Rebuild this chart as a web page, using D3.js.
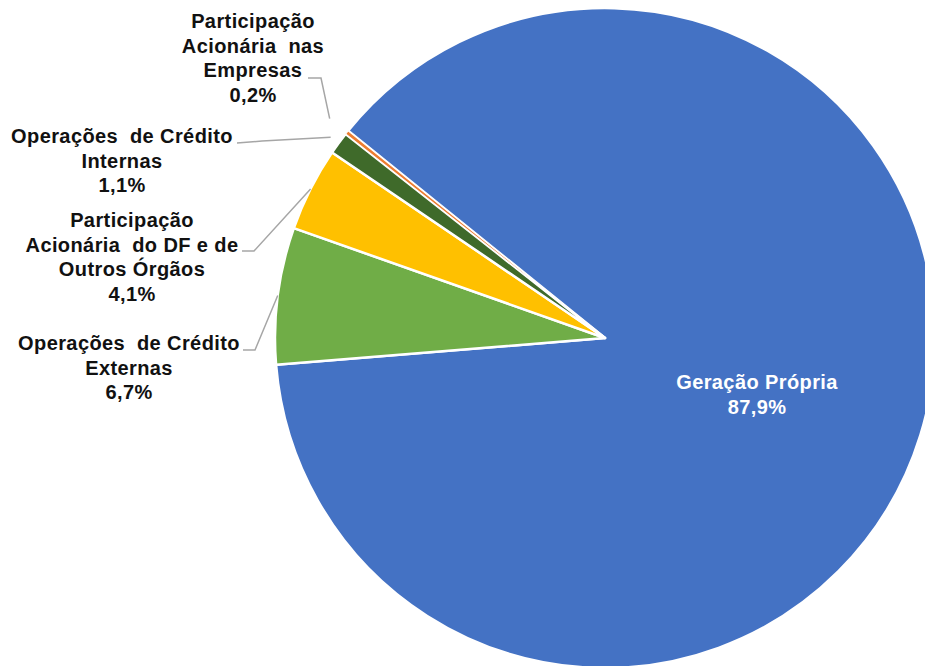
<!DOCTYPE html>
<html>
<head>
<meta charset="utf-8">
<script src="https://cdn.jsdelivr.net/npm/d3@7/dist/d3.min.js"></script>
<style>
  html, body { margin: 0; padding: 0; background: #fff; }
  svg { display: block; }
  text { font-family: "Liberation Sans", Arial, sans-serif; font-weight: bold; white-space: pre; }
</style>
</head>
<body>
<svg id="chart" width="925" height="666"></svg>
<script>
// Fontes de financiamento (%)
const categories = [
  "Geração Própria",
  "Operações de Crédito Externas",
  "Participação Acionária do DF e de Outros Órgãos",
  "Operações de Crédito Internas",
  "Participação Acionária nas Empresas"
];
const values = [87.9, 6.7, 4.1, 1.1, 0.2];
const colors = ["#4472C4", "#70AD47", "#FFC000", "#3F6A2A", "#ED7D31"];

// Label text, broken into lines as displayed
const labelLines = [
  ["Geração Própria"],
  ["Operações  de Crédito", "Externas"],
  ["Participação", "Acionária  do DF e de", "Outros Órgãos"],
  ["Operações  de Crédito", "Internas"],
  ["Participação", "Acionária  nas", "Empresas"]
];

// Layout
const cx = 605, cy = 338, radius = 330;
const lineH = 24.5;
// label block: centre x, first-line centre y
const labelPos = [
  [757, 382],
  [129, 343],
  [132, 220],
  [122, 136],
  [253, 21]
];
// leader line: elbow start, elbow end, extra radius at the slice end
const leaders = [
  null,
  [[243, 350], [255, 350], 0],
  [[242, 251], [254, 251], 0],
  [[237, 143], [262, 141], 10],
  [[308, 78], [321, 78], 22]
];

const fmt = v => d3.format(".1f")(v).replace(".", ",") + "%";

const svg = d3.select("#chart");
const g = svg.append("g").attr("transform", `translate(${cx},${cy})`);

const start = -51.1 * Math.PI / 180;
const pie = d3.pie().sort(null).startAngle(start).endAngle(start + 2 * Math.PI);
const arcs = pie(values);
const arc = d3.arc().innerRadius(0).outerRadius(radius);

g.selectAll("path.slice")
  .data(arcs)
  .join("path")
  .attr("class", "slice")
  .attr("d", arc)
  .attr("fill", (d, i) => colors[i])
  .attr("stroke", "#fff")
  .attr("stroke-width", (d, i) => i === 4 ? 1.2 : 2.5)
  .attr("stroke-linejoin", "round");

// leader lines
arcs.forEach((d, i) => {
  const L = leaders[i];
  if (!L) return;
  const a = (d.startAngle + d.endAngle) / 2;
  const r = radius + L[2];
  const ex = cx + r * Math.sin(a), ey = cy - r * Math.cos(a);
  svg.append("polyline")
    .attr("points", [L[0], L[1], [ex, ey]].map(p => p.join(",")).join(" "))
    .attr("fill", "none")
    .attr("stroke", "#A6A6A6")
    .attr("stroke-width", 1.5);
});

// labels
arcs.forEach((d, i) => {
  const lines = labelLines[i].concat([fmt(values[i])]);
  const t = svg.append("text")
    .attr("text-anchor", "middle")
    .attr("font-size", 20)
    .attr("letter-spacing", 0.4)
    .attr("fill", i === 0 ? "#fff" : "#111");
  lines.forEach((s, k) => {
    t.append("tspan")
      .attr("x", labelPos[i][0])
      .attr("y", labelPos[i][1] + k * lineH)
      .attr("dy", "0.35em")
      .text(s);
  });
});
</script>
</body>
</html>
